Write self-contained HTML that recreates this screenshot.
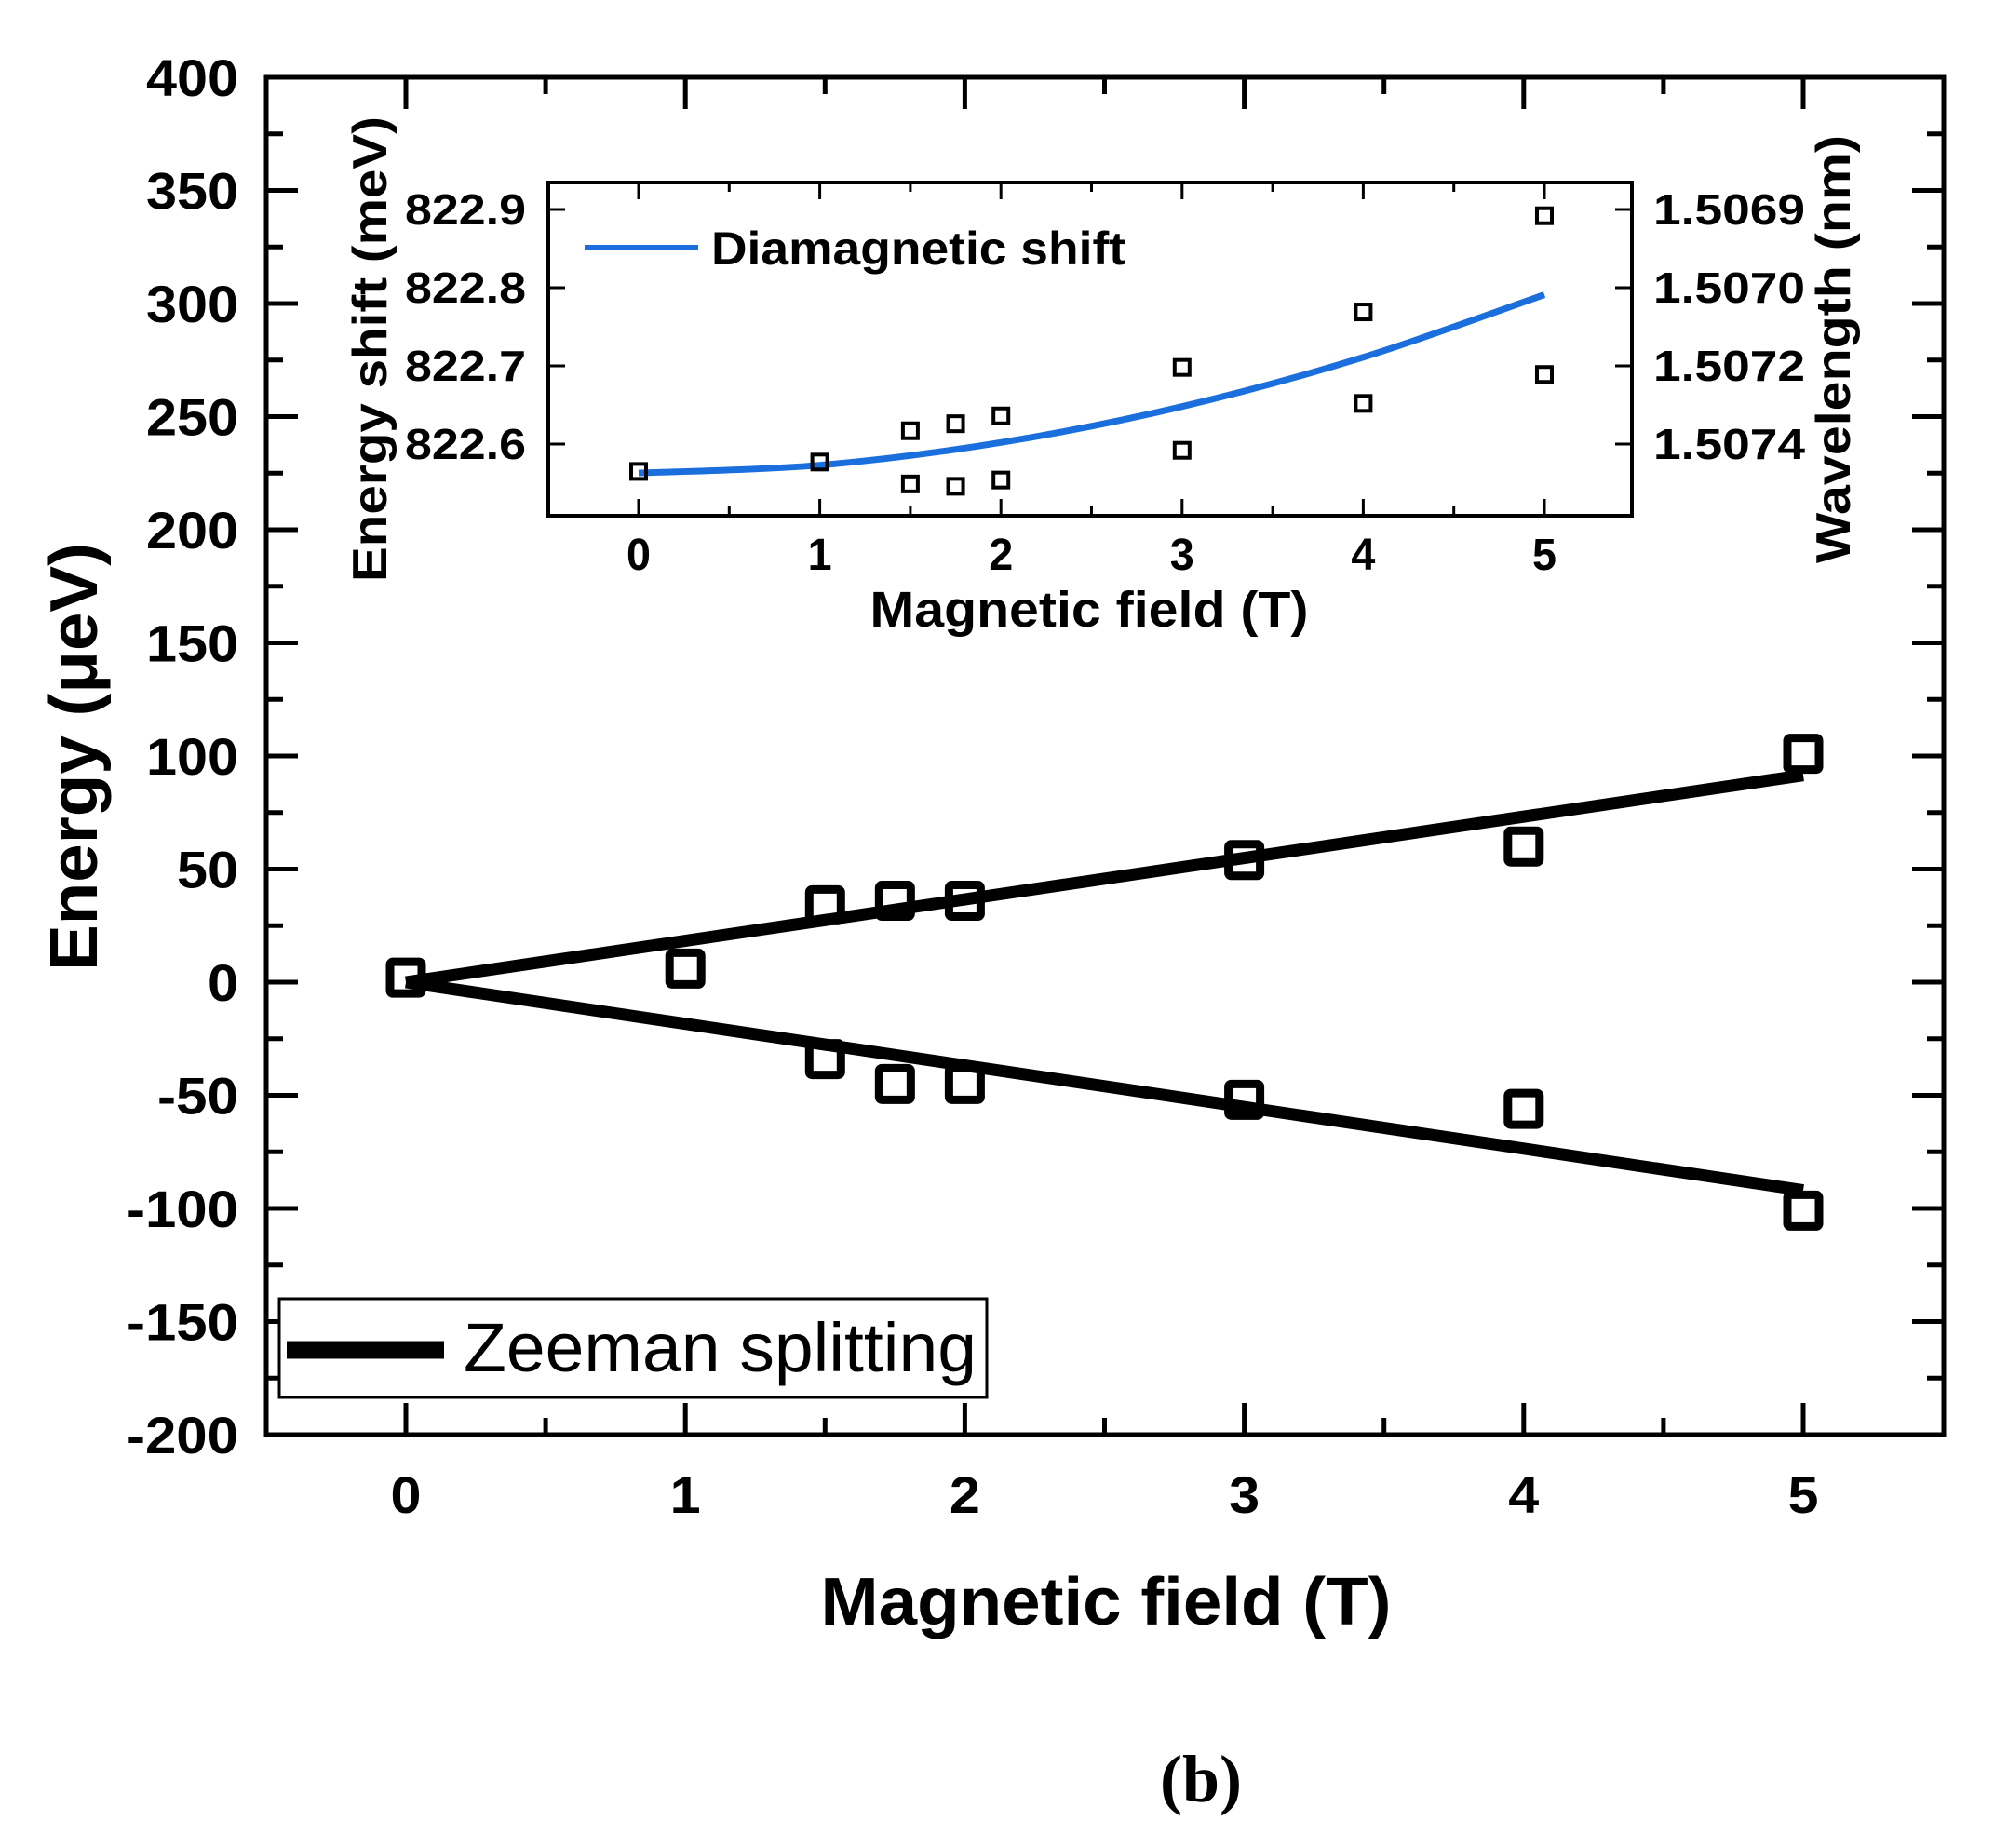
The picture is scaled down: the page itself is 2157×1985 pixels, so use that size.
<!DOCTYPE html>
<html><head><meta charset="utf-8"><style>
html,body{margin:0;padding:0;background:#fff;}
svg{display:block;font-family:"Liberation Sans",Arial,sans-serif;}
</style></head><body>
<svg id="chart" width="2157" height="1985" viewBox="0 0 2157 1985" xmlns="http://www.w3.org/2000/svg">
<g id="main"></g>
<g id="inset"></g>
<text x="1290" y="1935" font-family="Liberation Serif,serif" font-weight="bold" font-size="72" text-anchor="middle">(b)</text>
</svg>
<script>
// ---------- main chart data ----------
const fields = [0, 1, 1.5, 1.75, 2, 3, 4, 5];
const upperEnergy = [2, 6, 34, 36, 36, 54, 60, 101];
const lowerFields = [1.5, 1.75, 2, 3, 4, 5];
const lowerEnergy = [-34, -45, -45, -52, -56, -101];
const fitFields = [0, 5];
const fitUpper = [0, 91.5];
const fitLower = [0, -92];
const yTicks = [400, 350, 300, 250, 200, 150, 100, 50, 0, -50, -100, -150, -200];
const xTicks = [0, 1, 2, 3, 4, 5];

// ---------- inset data ----------
const insetFields = [0, 1, 1.5, 1.75, 2, 3, 4, 1.5, 1.75, 2, 3, 4, 5, 5];
const insetShift = [822.565, 822.577, 822.617, 822.626, 822.636, 822.698, 822.769, 822.549, 822.546, 822.554, 822.592, 822.652, 822.892, 822.689];
const diaFields = [0, 1, 2, 3, 4, 5];
const diaShift = [822.563, 822.573, 822.602, 822.648, 822.711, 822.791];
const insetYTicks = [822.6, 822.7, 822.8, 822.9];
const insetYLabels = ["822.6", "822.7", "822.8", "822.9"];
const insetWaveLabels = ["1.5074", "1.5072", "1.5070", "1.5069"];

const NS = "http://www.w3.org/2000/svg";
function mk(parent, tag, attrs){const e=document.createElementNS(NS,tag);for(const k in attrs)e.setAttribute(k,attrs[k]);parent.appendChild(e);return e;}

// main axes
const L=286,R=2088,T=83,B=1541;
const X=v=>436+(v)*(1937-436)/5;
const Y=v=>T+(400-v)*(B-T)/600;
const main=document.getElementById('main');

for(let v=-200; v<=400; v+=25){
  const major = v%50===0; const len = major?34:18; const y=Y(v);
  if(v===-200||v===400) continue;
  const t1=mk(main,'line',{x1:L,y1:y,x2:L+len,y2:y,stroke:'#000','stroke-width':5});
  
  
  const t2=mk(main,'line',{x1:R,y1:y,x2:R-len,y2:y,stroke:'#000','stroke-width':5});
  
  
}
for(let v=0; v<=5; v+=0.5){
  const major = Number.isInteger(v); const len = major?34:18; const x=X(v);
  const t1=mk(main,'line',{x1:x,y1:B,x2:x,y2:B-len,stroke:'#000','stroke-width':5});
  
  
  const t2=mk(main,'line',{x1:x,y1:T,x2:x,y2:T+len,stroke:'#000','stroke-width':5});
  
  
}
const frame=mk(main,'rect',{x:L,y:T,width:R-L,height:B-T,fill:'none',stroke:'#000','stroke-width':5});



yTicks.forEach(v=>{
  const s=String(v);
  const digits=s.replace('-','').length, minus=s.startsWith('-')?1:0;
  const t=mk(main,'text',{x:256,y:Y(v)+20,'text-anchor':'end','font-size':56,'font-weight':'bold',textLength:33*digits+21*minus,lengthAdjust:'spacingAndGlyphs'});
  t.textContent=s;
  
  
});
xTicks.forEach(v=>{
  const t=mk(main,'text',{x:X(v),y:1625,'text-anchor':'middle','font-size':56,'font-weight':'bold',textLength:33,lengthAdjust:'spacingAndGlyphs'});
  t.textContent=String(v);
  
  
});
const xt=mk(main,'text',{x:1188,y:1745,'text-anchor':'middle','font-size':72,'font-weight':'bold',textLength:613,lengthAdjust:'spacingAndGlyphs'});
xt.textContent='Magnetic field (T)';


const yt=mk(main,'text',{x:0,y:0,'text-anchor':'middle','font-size':72,'font-weight':'bold',transform:'translate(104,813) rotate(-90)',textLength:460,lengthAdjust:'spacingAndGlyphs'});
yt.textContent='Energy (μeV)';



[[fitUpper,'zeeman-fit-upper'],[fitLower,'zeeman-fit-lower']].forEach(([arr,name])=>{
  const l=mk(main,'line',{x1:X(fitFields[0]),y1:Y(arr[0]),x2:X(fitFields[1]),y2:Y(arr[1]),stroke:'#000','stroke-width':13});
  
  
});
function mainMarker(fx,ev,name){
  const s=34;
  const r=mk(main,'rect',{x:X(fx)-s/2,y:Y(ev)-s/2,width:s,height:s,fill:'none',stroke:'#000','stroke-width':9,rx:3});
  
  
}
fields.forEach((f,i)=>mainMarker(f,upperEnergy[i],'upper-point'));
lowerFields.forEach((f,i)=>mainMarker(f,lowerEnergy[i],'lower-point'));

const lg=mk(main,'g',{});


mk(lg,'rect',{x:300,y:1395,width:760,height:106,fill:'#fff',stroke:'#000','stroke-width':3});
const lgl=mk(lg,'line',{x1:308,y1:1450,x2:477,y2:1450,stroke:'#000','stroke-width':19});


const lgt=mk(lg,'text',{x:498,y:1473,'font-size':74,textLength:551,lengthAdjust:'spacingAndGlyphs'});
lgt.textContent='Zeeman splitting';



// ---------- inset ----------
const IL=589,IR=1753,IT=196,IB=554;
const IX=v=>686+v*(1659-686)/5;
const IY=v=>477-(v-822.6)*(477-225)/0.3;
const inset=document.getElementById('inset');
const ifr=mk(inset,'rect',{x:IL,y:IT,width:IR-IL,height:IB-IT,fill:'#fff',stroke:'#000','stroke-width':4});


for(let v=0; v<=5; v+=0.5){
  const len=Number.isInteger(v)?18:10;const x=IX(v);
  const a=mk(inset,'line',{x1:x,y1:IB,x2:x,y2:IB-len,stroke:'#000','stroke-width':3});
  
  
  const b=mk(inset,'line',{x1:x,y1:IT,x2:x,y2:IT+len,stroke:'#000','stroke-width':3});
  
  
}
insetYTicks.forEach((v,i)=>{
  const y=IY(v);
  const a=mk(inset,'line',{x1:IL,y1:y,x2:IL+18,y2:y,stroke:'#000','stroke-width':3});
  
  
  const b=mk(inset,'line',{x1:IR,y1:y,x2:IR-18,y2:y,stroke:'#000','stroke-width':3});
  
  
  const t=mk(inset,'text',{x:565,y:y+16,'text-anchor':'end','font-size':46,'font-weight':'bold',textLength:130,lengthAdjust:'spacingAndGlyphs'});
  t.textContent=insetYLabels[i];
  
  
  const w=mk(inset,'text',{x:1776,y:y+16,'font-size':46,'font-weight':'bold',textLength:163,lengthAdjust:'spacingAndGlyphs'});
  w.textContent=insetWaveLabels[i];
  
  
});
xTicks.forEach(v=>{
  const t=mk(inset,'text',{x:IX(v),y:612,'text-anchor':'middle','font-size':48,'font-weight':'bold',textLength:26,lengthAdjust:'spacingAndGlyphs'});
  t.textContent=String(v);
  
  
});
const ixt=mk(inset,'text',{x:1170,y:673,'text-anchor':'middle','font-size':54,'font-weight':'bold',textLength:471,lengthAdjust:'spacingAndGlyphs'});
ixt.textContent='Magnetic field (T)';


const iyt=mk(inset,'text',{x:0,y:0,'text-anchor':'middle','font-size':52,'font-weight':'bold',transform:'translate(415,375) rotate(-90)',textLength:500,lengthAdjust:'spacingAndGlyphs'});
iyt.textContent='Energy shift (meV)';


const iyr=mk(inset,'text',{x:0,y:0,'text-anchor':'middle','font-size':52,'font-weight':'bold',transform:'translate(1987,375) rotate(-90)',textLength:460,lengthAdjust:'spacingAndGlyphs'});
iyr.textContent='Wavelength (nm)';



const pts=diaFields.map((f,i)=>[IX(f),IY(diaShift[i])]);
let d='M'+pts[0][0]+','+pts[0][1];
for(let i=0;i<pts.length-1;i++){
  const p0=pts[Math.max(0,i-1)],p1=pts[i],p2=pts[i+1],p3=pts[Math.min(pts.length-1,i+2)];
  const c1=[p1[0]+(p2[0]-p0[0])/6,p1[1]+(p2[1]-p0[1])/6];
  const c2=[p2[0]-(p3[0]-p1[0])/6,p2[1]-(p3[1]-p1[1])/6];
  d+=` C${c1[0]},${c1[1]} ${c2[0]},${c2[1]} ${p2[0]},${p2[1]}`;
}
const cur=mk(inset,'path',{d:d,fill:'none',stroke:'#1a6fdc','stroke-width':7});


insetFields.forEach((f,i)=>{
  const s=16;
  const r=mk(inset,'rect',{x:IX(f)-s/2,y:IY(insetShift[i])-s/2,width:s,height:s,fill:'none',stroke:'#000','stroke-width':4});
  
  
});
const il=mk(inset,'line',{x1:628,y1:266,x2:750,y2:266,stroke:'#1a6fdc','stroke-width':6});


const it=mk(inset,'text',{x:764,y:284,'font-size':50,'font-weight':'bold',textLength:445,lengthAdjust:'spacingAndGlyphs'});
it.textContent='Diamagnetic shift';


</script>
</body></html>
